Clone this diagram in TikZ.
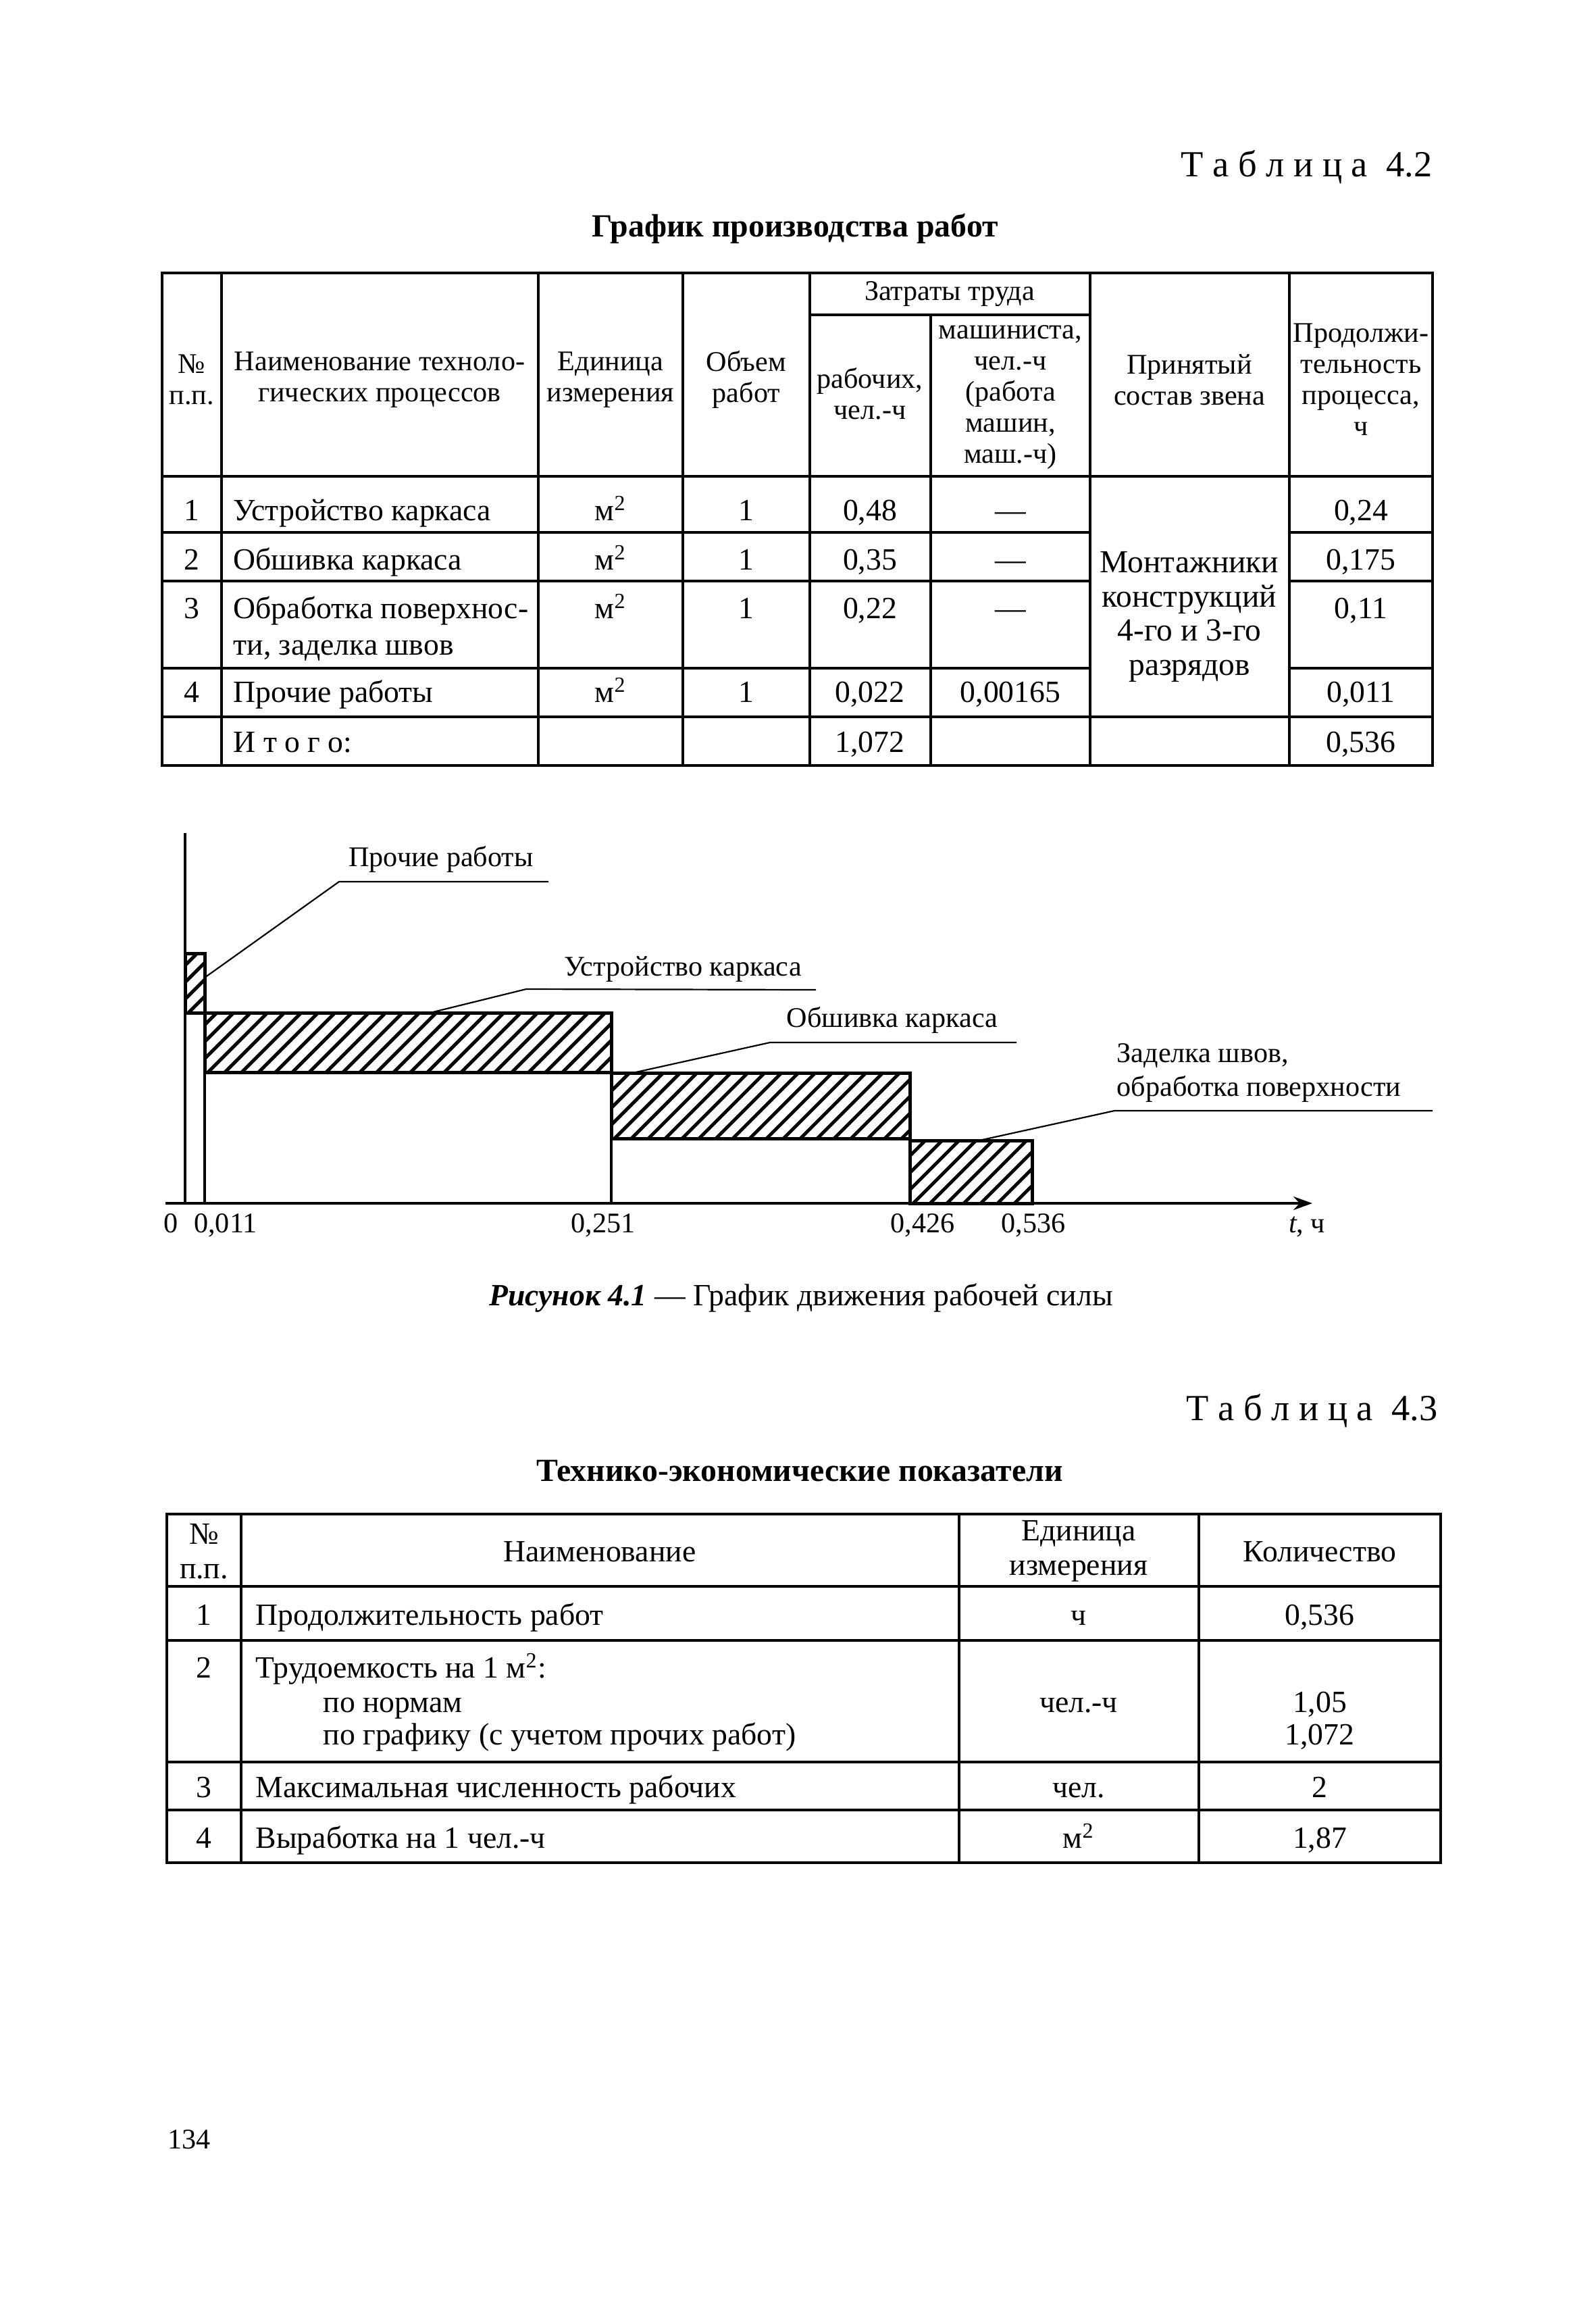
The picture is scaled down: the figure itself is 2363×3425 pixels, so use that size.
\documentclass[tikz,border=0pt]{standalone}
\usepackage{fontspec}
\setmainfont{Liberation Serif}
\usetikzlibrary{arrows.meta}
\newcommand\hatchbox[4]{%
  \begin{scope}
    \clip (#1,#2) rectangle (#3,#4);
    \foreach \k in {-120,-95,...,640} {\draw[line width=0.5mm] ({#1+\k},#4) -- ++(130,-130);}
  \end{scope}
  \draw[line width=0.5mm] (#1,#2) rectangle (#3,#4);}
\begin{document}
\begin{tikzpicture}[x=0.1mm,y=-0.1mm,
  tl/.style={line width=0.35mm},
  thin line/.style={line width=0.22mm},
  txt/.style={inner sep=0pt, font=\fontsize{13}{14.5}\selectfont, text height=11pt, text depth=1pt},
  hdr/.style={inner sep=0pt, font=\fontsize{12}{13.1}\selectfont, align=center},
  mtxt/.style={inner sep=0pt, font=\fontsize{13}{14.5}\selectfont, align=center},
  ltxt/.style={inner sep=0pt, font=\fontsize{13}{15.5}\selectfont, align=left},
  ctxt/.style={inner sep=0pt, font=\fontsize{12}{14}\selectfont, text height=9.2pt, text depth=2pt},
  title/.style={inner sep=0pt, font=\fontsize{13.6}{16}\selectfont\bfseries},
  tabno/.style={inner sep=0pt, font=\fontsize{15.5}{17}\selectfont, anchor=east}
]
\useasboundingbox[fill=white] (0,0) rectangle (2363,3425);

% ---------- Table 4.2 ----------
\node[tabno] (t42) at (2121,247) {Т а б л и ц а \ 4.2};
\node[title] (tt42) at (1177,338) {График производства работ};

\draw[tl] (240,404) rectangle (2121,1133);
\foreach \x in {328,797,1011,1199,1614,1909} \draw[tl] (\x,404) -- (\x,1133);
\draw[tl] (1378,466) -- (1378,1133);
\draw[tl] (1199,466) -- (1614,466);
\draw[tl] (240,705) -- (2121,705);
\foreach \y in {788,860,989} {\draw[tl] (240,\y) -- (1614,\y); \draw[tl] (1909,\y) -- (2121,\y);}
\draw[tl] (240,1061) -- (2121,1061);

\node[hdr] (h1) at (284,562) {№\\п.п.};
\node[hdr] (h2) at (562,562) {Наименование техноло-\\гических процессов};
\node[hdr] (h3) at (904,562) {Единица\\измерения};
\node[hdr] (h4) at (1105,562) {Объем\\работ};
\node[hdr] (h5) at (1406,435) {Затраты труда};
\node[hdr] (h6) at (1288,583) {рабочих,\\чел.-ч};
\node[hdr] (h7) at (1496,588) {машиниста,\\чел.-ч\\(работа\\машин,\\маш.-ч)};
\node[hdr] (h8) at (1761,562) {Принятый\\состав звена};
\node[hdr] (h9) at (2015,562) {Продолжи-\\тельность\\процесса,\\ч};

% row 1
\node[txt] (r1a) at (284,753) {1};
\node[txt,anchor=west] (r1b) at (345,753) {Устройство каркаса};
\node[txt] (r1c) at (904,753) {м\textsuperscript{2}};
\node[txt] (r1d) at (1105,753) {1};
\node[txt] (r1e) at (1288,753) {0,48};
\node[txt] (r1f) at (1496,753) {—};
\node[txt] (r1g) at (2015,753) {0,24};
% row 2
\node[txt] (r2a) at (284,826) {2};
\node[txt,anchor=west] (r2b) at (345,826) {Обшивка каркаса};
\node[txt] (r2c) at (904,826) {м\textsuperscript{2}};
\node[txt] (r2d) at (1105,826) {1};
\node[txt] (r2e) at (1288,826) {0,35};
\node[txt] (r2f) at (1496,826) {—};
\node[txt] (r2g) at (2015,826) {0,175};
% row 3
\node[txt] (r3a) at (284,898) {3};
\node[ltxt,anchor=north west] (r3b) at (345,882) {Обработка поверхнос-\\ти, заделка швов};
\node[txt] (r3c) at (904,898) {м\textsuperscript{2}};
\node[txt] (r3d) at (1105,898) {1};
\node[txt] (r3e) at (1288,898) {0,22};
\node[txt] (r3f) at (1496,898) {—};
\node[txt] (r3g) at (2015,898) {0,11};
% row 4
\node[txt] (r4a) at (284,1022) {4};
\node[txt,anchor=west] (r4b) at (345,1022) {Прочие работы};
\node[txt] (r4c) at (904,1022) {м\textsuperscript{2}};
\node[txt] (r4d) at (1105,1022) {1};
\node[txt] (r4e) at (1288,1022) {0,022};
\node[txt] (r4f) at (1496,1022) {0,00165};
\node[txt] (r4g) at (2015,1022) {0,011};
% total
\node[txt,anchor=west] (r5b) at (345,1096) {И т о г о:};
\node[txt] (r5e) at (1288,1096) {1,072};
\node[txt] (r5g) at (2015,1096) {0,536};
% merged
\node[inner sep=0pt, font=\fontsize{13.5}{14.5}\selectfont, align=center] (mont) at (1761,913) {Монтажники\\конструкций\\4-го и 3-го\\разрядов};

% ---------- Chart ----------
\draw[tl] (274,1233) -- (274,1781);
\draw[tl,-{Stealth[length=2.8mm,width=2mm]}] (245,1781) -- (1943,1781);
\hatchbox{274}{1411}{303}{1499}
\hatchbox{303}{1499}{905}{1587}
\hatchbox{905}{1588}{1347}{1685}
\hatchbox{1347}{1688}{1528}{1781}
\draw[tl] (303,1587) -- (303,1781);
\draw[tl] (905,1685) -- (905,1781);

\coordinate (l1a) at (303,1447); \coordinate (l1b) at (502,1305); \coordinate (l1c) at (812,1305);
\coordinate (l2a) at (637,1499); \coordinate (l2b) at (779,1464); \coordinate (l2c) at (1208,1465);
\coordinate (l3a) at (937,1588); \coordinate (l3b) at (1140,1543); \coordinate (l3c) at (1505,1543);
\coordinate (l4a) at (1450,1688); \coordinate (l4b) at (1650,1644); \coordinate (l4c) at (2121,1644);
\draw[thin line] (l1a) -- (l1b) -- (l1c);
\draw[thin line] (l2a) -- (l2b) -- (l2c);
\draw[thin line] (l3a) -- (l3b) -- (l3c);
\draw[thin line] (l4a) -- (l4b) -- (l4c);

\node[ctxt] (c1) at (653,1270) {Прочие работы};
\node[ctxt] (c2) at (1011,1432) {Устройство каркаса};
\node[ctxt] (c3) at (1321,1508) {Обшивка каркаса};
\node[inner sep=0pt, font=\fontsize{12}{14}\selectfont, align=left, anchor=west] (c4) at (1653,1588) {Заделка швов,\\обработка поверхности};

\node[ctxt] (a0) at (253,1812) {0};
\node[ctxt] (a1) at (334,1812) {0,011};
\node[ctxt] (a2) at (893,1812) {0,251};
\node[ctxt] (a3) at (1366,1812) {0,426};
\node[ctxt] (a4) at (1530,1812) {0,536};
\node[ctxt] (a5) at (1935,1812) {\textit{t}, ч};

\node[txt] (cap) at (1186,1915) {\textbf{\textit{Рисунок 4.1}} — График движения рабочей силы};

% ---------- Table 4.3 ----------
\node[tabno] (t43) at (2129,2088) {Т а б л и ц а \ 4.3};
\node[title] (tt43) at (1184,2177) {Технико-экономические показатели};

\draw[tl] (247,2241) rectangle (2133,2757);
\foreach \x in {357,1420,1775} \draw[tl] (\x,2241) -- (\x,2757);
\foreach \y in {2348,2428,2608,2679} \draw[tl] (247,\y) -- (2133,\y);

\node[mtxt] (g1) at (302,2296) {№\\п.п.};
\node[txt] (g2) at (888,2294) {Наименование};
\node[mtxt] (g3) at (1597,2296) {Единица\\измерения};
\node[txt] (g4) at (1954,2294) {Количество};

\node[txt] (s1a) at (302,2388) {1};
\node[txt,anchor=west] (s1b) at (378,2388) {Продолжительность работ};
\node[txt] (s1c) at (1597,2388) {ч};
\node[txt] (s1d) at (1954,2388) {0,536};

\node[txt] (s2a) at (302,2466) {2};
\node[txt,anchor=west] (s2b) at (378,2466) {Трудоемкость на 1 м\textsuperscript{2}:};
\node[txt,anchor=west] (s2c) at (478,2517) {по нормам};
\node[txt,anchor=west] (s2d) at (478,2565) {по графику (с учетом прочих работ)};
\node[txt] (s2e) at (1597,2517) {чел.-ч};
\node[txt] (s2f) at (1954,2517) {1,05};
\node[txt] (s2g) at (1954,2565) {1,072};

\node[txt] (s3a) at (302,2643) {3};
\node[txt,anchor=west] (s3b) at (378,2643) {Максимальная численность рабочих};
\node[txt] (s3c) at (1597,2643) {чел.};
\node[txt] (s3d) at (1954,2643) {2};

\node[txt] (s4a) at (302,2718) {4};
\node[txt,anchor=west] (s4b) at (378,2718) {Выработка на 1 чел.-ч};
\node[txt] (s4c) at (1597,2718) {м\textsuperscript{2}};
\node[txt] (s4d) at (1954,2718) {1,87};

\node[inner sep=0pt, font=\fontsize{12}{14}\selectfont] (page) at (280,3167) {134};
\end{tikzpicture}
\end{document}
